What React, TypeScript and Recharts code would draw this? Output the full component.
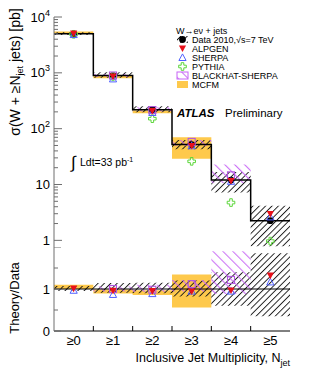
import React from 'react';
import { ComposedChart, Area, Line, Scatter, XAxis, YAxis, ReferenceLine } from 'recharts';

// inclusive jet multiplicity bins
const categories = ['≥0', '≥1', '≥2', '≥3', '≥4', '≥5'];

// measured cross sections [pb] and relative total uncertainty
const dataXsec = [5000, 895, 219, 52, 12, 2.25];
const dataErrUp = [0.07, 0.14, 0.15, 0.2, 0.4, 0.85];
const dataErrDown = [0.05, 0.09, 0.1, 0.18, 0.4, 0.65];

// predictions [pb]
const alpgen = [5050, 860, 208, 49, 11.6, 2.97];
const sherpa = [4850, 779, 195, 49.4, 11.4, 2.63];
const pythia = [4900, 860, 151, 26, 4.75, 0.97];
const blackhat = [null, 895, 215, 58, 14.6, null];
const blackhatLo = [null, 841, 204, 49, 10.6, null];
const blackhatHi = [null, 949, 241, 63, 22.8, null];
const mcfmLo = [5000, 797, 188, 29, null, null];
const mcfmHi = [5500, 886, 212, 70, null, null];

// axis ticks
const xTicks = [0, 0.5, 1, 1.5, 2, 2.5, 3, 3.5, 4, 4.5, 5, 5.5, 6];
const majorLog = [1, 10, 100, 1000, 10000];
const minorLog = majorLog.slice(0, -1).flatMap((d) => [2, 3, 4, 5, 6, 7, 8, 9].map((k) => k * d));
const logTicks = [...majorLog, ...minorLog].sort((a, b) => a - b);
const ratioTicks = [0, 0.5, 1, 1.5, 2];
const ratioLabels = [0, 1];

const FONT = 'Liberation Sans, Arial, sans-serif';
const ORANGE = '#fec94c';
const VIOLET = '#c765f5';
const AXIS_GREY = '#6f6f6f';

type V = number | null;

function stepBand(lo: V[], hi: V[]) {
  const rows: any[] = [];
  let last = -1;
  lo.forEach((l, i) => {
    const h = hi[i];
    if (l == null || h == null) return;
    rows.push({ x: i, r: [l, h] });
    last = i;
  });
  if (last >= 0) rows.push({ x: last + 1, r: rows[rows.length - 1].r });
  return rows;
}

function stepLine(vals: number[]) {
  const rows = vals.map((v, i) => ({ x: i, y: v }));
  rows.push({ x: vals.length, y: vals[vals.length - 1] });
  return rows;
}

function centers(vals: V[]) {
  return vals
    .map((v, i) => (v == null ? null : { x: i + 0.5, y: v }))
    .filter((p) => p != null) as { x: number; y: number }[];
}

const ratio = (vals: V[]) => vals.map((v, i) => (v == null ? null : v / dataXsec[i]));

// main panel series
const dataBandMain = stepBand(
  dataXsec.map((v, i) => v * (1 - dataErrDown[i])),
  dataXsec.map((v, i) => v * (1 + dataErrUp[i]))
);
const mcfmMain = stepBand(mcfmLo, mcfmHi);
const bhMain = stepBand(blackhatLo, blackhatHi);
const histo = stepLine(dataXsec);

// ratio panel series
const dataBandRatio = stepBand(
  dataErrDown.map((e) => 1 - e),
  dataErrUp.map((e) => 1 + e)
);
const mcfmRatio = stepBand(ratio(mcfmLo), ratio(mcfmHi));
const bhRatio = stepBand(ratio(blackhatLo), ratio(blackhatHi));

// marker shapes
const DataDot = (p: any) => <circle cx={p.cx} cy={p.cy} r={3.4} fill="#000" />;
const AlpgenMk = (p: any) => (
  <path d={`M${p.cx - 3.6},${p.cy - 3} L${p.cx + 3.6},${p.cy - 3} L${p.cx},${p.cy + 3.6} Z`} fill="#e8101a" />
);
const SherpaMk = (p: any) => (
  <path d={`M${p.cx - 3.6},${p.cy + 3} L${p.cx + 3.6},${p.cy + 3} L${p.cx},${p.cy - 3.6} Z`} fill="none" stroke="#5060ff" strokeWidth={1} />
);
const crossPath = (cx: number, cy: number) => {
  const a = 1.3, b = 3.8;
  return `M${cx - a},${cy - b} L${cx + a},${cy - b} L${cx + a},${cy - a} L${cx + b},${cy - a} L${cx + b},${cy + a} L${cx + a},${cy + a} L${cx + a},${cy + b} L${cx - a},${cy + b} L${cx - a},${cy + a} L${cx - b},${cy + a} L${cx - b},${cy - a} L${cx - a},${cy - a} Z`;
};
const PythiaMk = (p: any) => <path d={crossPath(p.cx, p.cy)} fill="none" stroke="#5cd63a" strokeWidth={1} />;
const BlackhatMk = (p: any) => (
  <rect x={p.cx - 3.5} y={p.cy - 3.5} width={7} height={7} fill="none" stroke="#b055e0" strokeWidth={1.1} />
);

// axis tick renderers
const logTickLeft = (p: any) => {
  const v = p.payload.value;
  const major = majorLog.includes(v);
  const e = Math.round(Math.log10(v));
  return (
    <g>
      <line x1={p.x} x2={p.x + (major ? 8 : 4)} y1={p.y} y2={p.y} stroke={AXIS_GREY} strokeWidth={1} />
      {major && (
        <text x={p.x - 4} y={p.y + 4.5} textAnchor="end" fontSize={13} fontFamily={FONT} fill="#000">
          {e < 2 ? String(v) : '10'}
          {e >= 2 && (
            <tspan dy={-6} fontSize={9}>
              {e}
            </tspan>
          )}
        </text>
      )}
    </g>
  );
};
const logTickRight = (p: any) => {
  const major = majorLog.includes(p.payload.value);
  return <line x1={p.x} x2={p.x - (major ? 8 : 4)} y1={p.y} y2={p.y} stroke={AXIS_GREY} strokeWidth={1} />;
};
const ratioTickLeft = (p: any) => {
  const v = p.payload.value;
  const major = Number.isInteger(v);
  return (
    <g>
      <line x1={p.x} x2={p.x + (major ? 7 : 4)} y1={p.y} y2={p.y} stroke={AXIS_GREY} strokeWidth={1} />
      {ratioLabels.includes(v) && (
        <text x={p.x - 4} y={p.y + 4.5} textAnchor="end" fontSize={13} fontFamily={FONT} fill="#000">
          {v}
        </text>
      )}
    </g>
  );
};
const ratioTickRight = (p: any) => {
  const major = Number.isInteger(p.payload.value);
  return <line x1={p.x} x2={p.x - (major ? 7 : 4)} y1={p.y} y2={p.y} stroke={AXIS_GREY} strokeWidth={1} />;
};
const edgeTick = (dir: number, withLabels: boolean) => (p: any) => {
  const v = p.payload.value;
  if (Number.isInteger(v)) {
    if (v === 0 || v === 6) return <g />;
    return <line x1={p.x} x2={p.x} y1={p.y} y2={p.y + dir * 5} stroke="#000" strokeWidth={1} />;
  }
  if (!withLabels) return <g />;
  return (
    <text x={p.x} y={p.y + 14} textAnchor="middle" fontSize={13} fontFamily={FONT} fill="#000">
      {categories[Math.floor(v)]}
    </text>
  );
};

const MainPanel = () => (
  <ComposedChart width={314} height={247} margin={{ top: 17, right: 24, bottom: 0, left: 0 }}>
    <XAxis xAxisId="b" dataKey="x" type="number" domain={[0, 6]} ticks={xTicks} interval={0} height={0}
      tickSize={0} tickMargin={0} axisLine={{ stroke: '#000' }} tick={edgeTick(-1, false)} allowDataOverflow />
    <XAxis xAxisId="t" orientation="top" dataKey="x" type="number" domain={[0, 6]} ticks={xTicks} interval={0}
      height={0} tickSize={0} tickMargin={0} axisLine={{ stroke: '#000' }} tick={edgeTick(1, false)} allowDataOverflow />
    <YAxis yAxisId="l" scale="log" type="number" domain={[0.76, 10000]} ticks={logTicks} interval={0} width={54}
      tickSize={0} tickMargin={0} axisLine={{ stroke: AXIS_GREY }} tick={logTickLeft} allowDataOverflow />
    <YAxis yAxisId="r" orientation="right" scale="log" type="number" domain={[0.76, 10000]} ticks={logTicks}
      interval={0} width={0} tickSize={0} tickMargin={0} axisLine={{ stroke: AXIS_GREY }} tick={logTickRight} allowDataOverflow />
    <Area xAxisId="b" yAxisId="l" data={mcfmMain} dataKey="r" type="stepAfter" fill={ORANGE} fillOpacity={1} stroke="none" isAnimationActive={false} />
    <Area xAxisId="b" yAxisId="l" data={dataBandMain} dataKey="r" type="stepAfter" fill="url(#hatchBlack)" fillOpacity={1} stroke="none" isAnimationActive={false} />
    <Area xAxisId="b" yAxisId="l" data={bhMain} dataKey="r" type="stepAfter" fill="url(#hatchViolet)" fillOpacity={1} stroke="none" isAnimationActive={false} />
    <Line xAxisId="b" yAxisId="l" data={histo} dataKey="y" type="stepAfter" stroke="#000" strokeWidth={1.5} dot={false} isAnimationActive={false} />
    <Scatter xAxisId="b" yAxisId="l" data={centers(dataXsec)} dataKey="y" shape={DataDot} isAnimationActive={false} />
    <Scatter xAxisId="b" yAxisId="l" data={centers(pythia)} dataKey="y" shape={PythiaMk} isAnimationActive={false} />
    <Scatter xAxisId="b" yAxisId="l" data={centers(sherpa)} dataKey="y" shape={SherpaMk} isAnimationActive={false} />
    <Scatter xAxisId="b" yAxisId="l" data={centers(blackhat)} dataKey="y" shape={BlackhatMk} isAnimationActive={false} />
    <Scatter xAxisId="b" yAxisId="l" data={centers(alpgen)} dataKey="y" shape={AlpgenMk} isAnimationActive={false} />
  </ComposedChart>
);

const RatioPanel = () => (
  <ComposedChart width={314} height={135} margin={{ top: 0, right: 24, bottom: 0, left: 0 }}>
    <XAxis xAxisId="b" dataKey="x" type="number" domain={[0, 6]} ticks={xTicks} interval={0} height={51}
      tickSize={0} tickMargin={0} axisLine={{ stroke: '#000' }} tick={edgeTick(-1, true)} allowDataOverflow />
    <XAxis xAxisId="t" orientation="top" dataKey="x" type="number" domain={[0, 6]} ticks={xTicks} interval={0}
      height={0} tickSize={0} tickMargin={0} axisLine={{ stroke: '#000' }} tick={edgeTick(1, false)} allowDataOverflow />
    <YAxis yAxisId="l" type="number" domain={[0, 2]} ticks={ratioTicks} interval={0} width={54}
      tickSize={0} tickMargin={0} axisLine={{ stroke: AXIS_GREY }} tick={ratioTickLeft} allowDataOverflow />
    <YAxis yAxisId="r" orientation="right" type="number" domain={[0, 2]} ticks={ratioTicks} interval={0} width={0}
      tickSize={0} tickMargin={0} axisLine={{ stroke: AXIS_GREY }} tick={ratioTickRight} allowDataOverflow />
    <Area xAxisId="b" yAxisId="l" data={mcfmRatio} dataKey="r" type="stepAfter" fill={ORANGE} fillOpacity={1} stroke="none" isAnimationActive={false} />
    <Area xAxisId="b" yAxisId="l" data={dataBandRatio} dataKey="r" type="stepAfter" fill="url(#hatchBlack)" fillOpacity={1} stroke="none" isAnimationActive={false} />
    <Area xAxisId="b" yAxisId="l" data={bhRatio} dataKey="r" type="stepAfter" fill="url(#hatchViolet)" fillOpacity={1} stroke="none" isAnimationActive={false} />
    <ReferenceLine xAxisId="b" yAxisId="l" y={1} stroke="#000" strokeWidth={1} />
    <Scatter xAxisId="b" yAxisId="l" data={centers(ratio(sherpa))} dataKey="y" shape={SherpaMk} isAnimationActive={false} />
    <Scatter xAxisId="b" yAxisId="l" data={centers(ratio(blackhat))} dataKey="y" shape={BlackhatMk} isAnimationActive={false} />
    <Scatter xAxisId="b" yAxisId="l" data={centers(ratio(alpgen))} dataKey="y" shape={AlpgenMk} isAnimationActive={false} />
  </ComposedChart>
);

const legendRows = [
  { label: 'Data 2010,√s=7 TeV', y: 39.5 },
  { label: 'ALPGEN', y: 48.5 },
  { label: 'SHERPA', y: 57.5 },
  { label: 'PYTHIA', y: 66.5 },
  { label: 'BLACKHAT-SHERPA', y: 75.5 },
  { label: 'MCFM', y: 84.5 },
];

const Overlay = () => (
  <svg width={314} height={382} style={{ position: 'absolute', left: 0, top: 0, pointerEvents: 'none' }} fontFamily={FONT}>
    <text transform="translate(20,72) rotate(-90)" textAnchor="middle" fontSize={14} fill="#000">
      σ(W + ≥N<tspan dy={3} fontSize={9}>jet</tspan><tspan dy={-3}> jets) [pb]</tspan>
    </text>
    <text transform="translate(19,298) rotate(-90)" textAnchor="middle" fontSize={13} fill="#000">
      Theory/Data
    </text>
    <text x={290} y={362} textAnchor="end" fontSize={12.5} fill="#000">
      Inclusive Jet Multiplicity, N<tspan dy={4} fontSize={9}>jet</tspan>
    </text>

    <text x={176} y={34} fontSize={9} fill="#000">W→eν + jets</text>
    {legendRows.map((r) => (
      <text key={r.label} x={192} y={r.y + 3.3} fontSize={9} fill="#000">{r.label}</text>
    ))}
    <rect x={177} y={36} width={11} height={7} fill="url(#hatchBlack)" />
    <DataDot cx={182.5} cy={39.5} />
    <AlpgenMk cx={182.5} cy={48.5} />
    <SherpaMk cx={182.5} cy={57.5} />
    <PythiaMk cx={182.5} cy={66.5} />
    <rect x={177} y={72} width={11} height={7} fill="url(#hatchViolet)" stroke={VIOLET} strokeWidth={1} />
    <rect x={177} y={81} width={11} height={7} fill={ORANGE} />

    <text x={177} y={117} fontSize={11.5} fontWeight="bold" fontStyle="italic" fill="#000">ATLAS</text>
    <text x={225} y={117} fontSize={11.5} fill="#000">Preliminary</text>

    <text x={71} y={168} fontSize={17} fill="#000">∫</text>
    <text x={80} y={166} fontSize={10.5} fill="#000">
      Ldt=33 pb<tspan dy={-4} fontSize={7}>-1</tspan>
    </text>
  </svg>
);

export default function App() {
  return (
    <div style={{ position: 'absolute', left: 0, top: 0, width: 314, height: 382, background: '#fff' }}>
      <svg width={0} height={0} style={{ position: 'absolute' }}>
        <defs>
          <pattern id="hatchBlack" patternUnits="userSpaceOnUse" width={4.5} height={4.5} patternTransform="rotate(45)">
            <line x1={0.5} y1={0} x2={0.5} y2={4.5} stroke="#111" strokeWidth={0.9} />
          </pattern>
          <pattern id="hatchViolet" patternUnits="userSpaceOnUse" width={7} height={7} patternTransform="rotate(-45)">
            <line x1={0.6} y1={0} x2={0.6} y2={7} stroke={VIOLET} strokeWidth={1} />
          </pattern>
        </defs>
      </svg>
      <div style={{ position: 'absolute', left: 0, top: 0 }}>
        <MainPanel />
      </div>
      <div style={{ position: 'absolute', left: 0, top: 247 }}>
        <RatioPanel />
      </div>
      <Overlay />
    </div>
  );
}
